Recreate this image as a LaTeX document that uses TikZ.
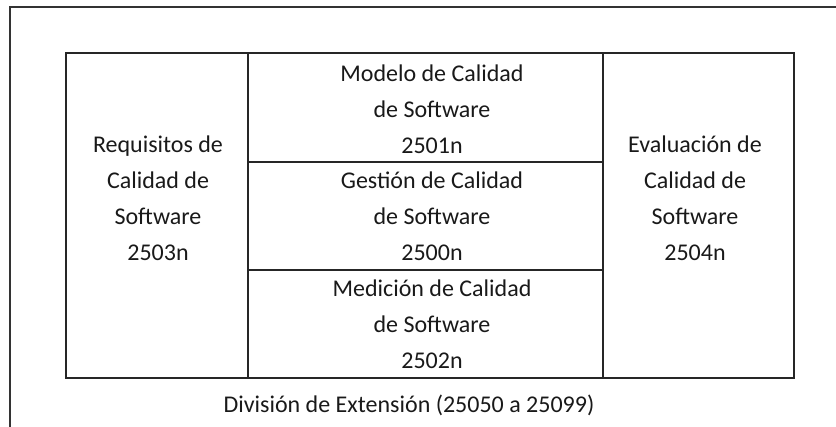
\documentclass[tikz,border=0pt]{standalone}
\usepackage{fontspec}
\setmainfont{Carlito}
\begin{document}
\begin{tikzpicture}[x=1pt,y=-1pt,
  frame/.style={draw=black!80,line width=1.8pt},
  cellline/.style={draw=black!85,line width=1.5pt},
  lbl/.style={align=center,text=black!90,font=\fontsize{24}{36}\selectfont,inner sep=0pt}]
\useasboundingbox (0,0) rectangle (836,427);
% outer frame (clipped at right and bottom)
\begin{scope}
\clip (0,0) rectangle (836,427);
\draw[frame] (10,440) -- (10,7) -- (850,7);
\end{scope}
% inner table
\coordinate (tl) at (66,53);
\coordinate (br) at (794,378);
\draw[cellline] (tl) rectangle (br);
\coordinate (c1t) at (248,53); \coordinate (c1b) at (248,378);
\coordinate (c2t) at (603,53); \coordinate (c2b) at (603,378);
\draw[cellline] (c1t) -- (c1b);
\draw[cellline] (c2t) -- (c2b);
\coordinate (r1l) at (248,162); \coordinate (r1r) at (603,162);
\coordinate (r2l) at (248,270); \coordinate (r2r) at (603,270);
\draw[cellline] (r1l) -- (r1r);
\draw[cellline] (r2l) -- (r2r);
% labels
\node[lbl] (req) at (158,198) {Requisitos de\\Calidad de\\Software\\2503n};
\node[lbl] (mod) at (432,109) {Modelo de Calidad\\de Software\\2501n};
\node[lbl] (ges) at (432,216) {Gestión de Calidad\\de Software\\2500n};
\node[lbl] (med) at (432,324) {Medición de Calidad\\de Software\\2502n};
\node[lbl] (eva) at (695,198) {Evaluación de\\Calidad de\\Software\\2504n};
\node[lbl] (div) at (409,405) {División de Extensión (25050 a 25099)};
\end{tikzpicture}
\end{document}
